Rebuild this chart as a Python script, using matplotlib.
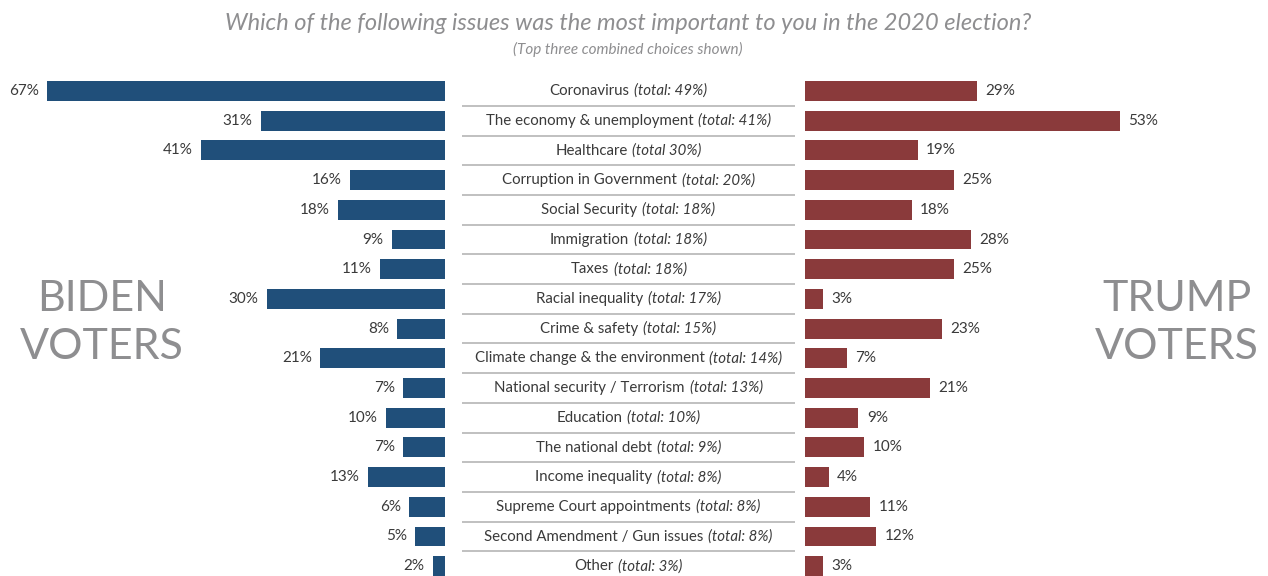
import matplotlib.pyplot as plt
from matplotlib.offsetbox import TextArea, HPacker, AnnotationBbox

issues = ["Coronavirus", "The economy & unemployment", "Healthcare",
          "Corruption in Government", "Social Security", "Immigration",
          "Taxes", "Racial inequality", "Crime & safety",
          "Climate change & the environment", "National security / Terrorism",
          "Education", "The national debt", "Income inequality",
          "Supreme Court appointments", "Second Amendment / Gun issues", "Other"]
totals = ["(total: 49%)", "(total: 41%)", "(total 30%)", "(total: 20%)",
          "(total: 18%)", "(total: 18%)", "(total: 18%)", "(total: 17%)",
          "(total: 15%)", "(total: 14%)", "(total: 13%)", "(total: 10%)",
          "(total: 9%)", "(total: 8%)", "(total: 8%)", "(total: 8%)",
          "(total: 3%)"]
biden = [67, 31, 41, 16, 18, 9, 11, 30, 8, 21, 7, 10, 7, 13, 6, 5, 2]
trump = [29, 53, 19, 25, 18, 28, 25, 3, 23, 7, 21, 9, 10, 4, 11, 12, 3]

plt.rcParams['font.family'] = ['Lato', 'DejaVu Sans']
BLUE = "#204f7a"
RED = "#8a3a3b"
TXT = "#3a3a3a"
GREY = "#8e8e90"

W, H = 1268, 576
fig = plt.figure(figsize=(W / 100, H / 100), dpi=100)

n = len(issues)
rows = list(range(n))
row_px = 29.7
top_px = 91 - row_px / 2
ax_h = n * row_px
bottom = (H - top_px - ax_h) / H
px_per_pct = 5.94

def make_ax(x0, x1):
    ax = fig.add_axes([x0 / W, bottom, (x1 - x0) / W, ax_h / H])
    ax.set_ylim(n - 0.5, -0.5)
    ax.axis("off")
    return ax

# Biden (left, bars grow leftwards)
axl = make_ax(0, 445)
axl.set_xlim(445 / px_per_pct, 0)
axl.barh(rows, biden, height=0.67, color=BLUE)
for r, v in zip(rows, biden):
    axl.annotate(f"{v}%", (v, r), xytext=(-6, 0), textcoords="offset points",
                 ha="right", va="center", fontsize=11, color=TXT)

# Trump (right)
axr = make_ax(805, W)
axr.set_xlim(0, (W - 805) / px_per_pct)
axr.barh(rows, trump, height=0.67, color=RED)
for r, v in zip(rows, trump):
    axr.annotate(f"{v}%", (v, r), xytext=(6, 0), textcoords="offset points",
                 ha="left", va="center", fontsize=11, color=TXT)

# centre labels
axc = make_ax(462, 795)
axc.set_xlim(0, 1)
for r, (name, tot) in enumerate(zip(issues, totals)):
    box = HPacker(children=[
        TextArea(name, textprops=dict(fontsize=10.8, color=TXT)),
        TextArea(tot, textprops=dict(fontsize=10.8, color=TXT, style="italic")),
    ], pad=0, sep=3.5, align="baseline")
    ab = AnnotationBbox(box, (0.5, r), frameon=False, box_alignment=(0.5, 0.5),
                        annotation_clip=False)
    axc.add_artist(ab)
    if r < n - 1:
        axc.plot([0, 1], [r + 0.5, r + 0.5], color="#b5b5b5", lw=1.2)

fig.text(628 / W, 1 - 23 / H,
         "Which of the following issues was the most important to you in the 2020 election?",
         ha="center", va="center", fontsize=17, style="italic", color=GREY)
fig.text(628 / W, 1 - 49 / H, "(Top three combined choices shown)",
         ha="center", va="center", fontsize=11, style="italic", color=GREY)

fig.text(102 / W, 1 - 323 / H, "BIDEN\nVOTERS", ha="center", va="center",
         fontsize=31, color=GREY, linespacing=1.3)
fig.text(1177 / W, 1 - 323 / H, "TRUMP\nVOTERS", ha="center", va="center",
         fontsize=31, color=GREY, linespacing=1.3)

fig.savefig("out.png", dpi=100)
